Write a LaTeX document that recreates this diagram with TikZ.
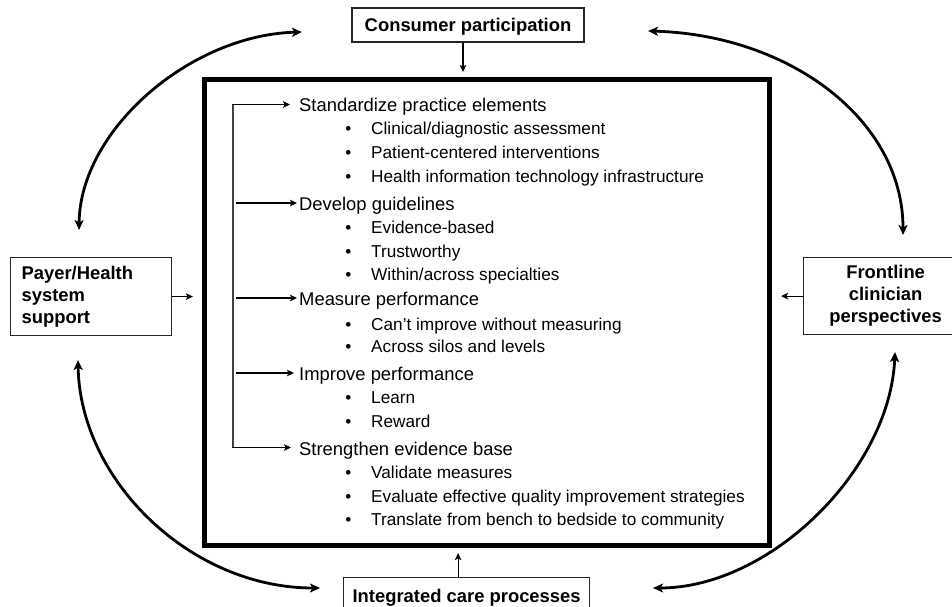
\documentclass[tikz,border=0pt]{standalone}
\usepackage{fontspec}
\setmainfont{Liberation Sans}
\usetikzlibrary{arrows.meta}
\begin{document}
\begin{tikzpicture}[x=1pt,y=-1pt,
  hdr/.style={anchor=base west,inner sep=0pt,font=\fontsize{18.4}{22}\selectfont},
  itm/.style={anchor=base west,inner sep=0pt,font=\fontsize{17.2}{21}\selectfont},
  bul/.style={anchor=base,inner sep=0pt,font=\fontsize{17.2}{21}\selectfont},
  sbox/.style={draw=black!85,line width=1.2pt,font=\bfseries\fontsize{18.4}{22}\selectfont},
  conn/.style={line width=1.2pt,-{Stealth[length=7pt,width=6.5pt,inset=1.5pt]}},
  brk/.style={line width=1.2pt,draw=black!75},
  curv/.style={line width=2.8pt,{Stealth[length=10pt,width=9pt,inset=2.5pt]}-{Stealth[length=10pt,width=9pt,inset=2.5pt]}}
]
\useasboundingbox (0,0) rectangle (952,607);

% main box
\node[draw,line width=5pt,minimum width=565pt,minimum height=465pt,inner sep=0pt] (main) at (486.5,312.5) {};

% outer boxes
\node[sbox,minimum width=232pt,minimum height=34pt,text height=13.2pt,text depth=0pt,inner sep=0pt] (cons) at (468,25) {Consumer participation};
\node[sbox,anchor=north west,text width=139pt,inner xsep=11pt,align=left,minimum height=78pt] (payer) at (10,257) {Payer/Health\\system\\support};
\node[sbox,anchor=north west,text width=142pt,inner xsep=11pt,align=center,minimum height=77pt] (front) at (803,257) {Frontline\\clinician\\perspectives};
\node[sbox,anchor=north west,inner xsep=9pt,inner ysep=12pt,text height=13.2pt,text depth=0pt] (integ) at (343,577) {Integrated care processes};

% straight connectors to the main box
\coordinate (ct) at ([xshift=-5pt]cons.south);
\draw[conn,shorten >=5.5pt] (ct) -- (ct |- main.north);
\draw[conn,shorten >=8.5pt] (payer.east) -- (payer.east -| main.west);
\draw[conn,shorten >=9.5pt] (front.west) -- (front.west -| main.east);
\coordinate (cb) at ([xshift=-8.5pt]integ.north);
\draw[conn,shorten >=5.5pt] (cb) -- (cb |- main.south);

% curved double arrows
\coordinate (tl1) at (302,32);  \coordinate (tl2) at (79,230);
\coordinate (tr1) at (648,31);  \coordinate (tr2) at (903,235);
\coordinate (bl1) at (78,360);  \coordinate (bl2) at (320,588);
\coordinate (br1) at (895,352); \coordinate (br2) at (653,588);
\draw[curv] (tl1) .. controls (190,35) and (80,130) .. (tl2);
\draw[curv] (tr1) .. controls (790,35) and (903,120) .. (tr2);
\draw[curv] (bl1) .. controls (80,480) and (190,588) .. (bl2);
\draw[curv] (br1) .. controls (890,470) and (770,588) .. (br2);

% headers
\node[hdr] (h1) at (299,112) {Standardize practice elements};
\node[hdr] (h2) at (299,210) {Develop guidelines};
\node[hdr] (h3) at (299,305) {Measure performance};
\node[hdr] (h4) at (299,380) {Improve performance};
\node[hdr] (h5) at (299,455) {Strengthen evidence base};

% bullets
\node[bul] (u11) at (348.5,135) {•}; \node[itm] (t11) at (371,135) {Clinical/diagnostic assessment};
\node[bul] (u12) at (348.5,158) {•}; \node[itm] (t12) at (371,158) {Patient-centered interventions};
\node[bul] (u13) at (348.5,182) {•}; \node[itm] (t13) at (371,182) {Health information technology infrastructure};
\node[bul] (u21) at (348.5,233) {•}; \node[itm] (t21) at (371,233) {Evidence-based};
\node[bul] (u22) at (348.5,257) {•}; \node[itm] (t22) at (371,257) {Trustworthy};
\node[bul] (u23) at (348.5,280) {•}; \node[itm] (t23) at (371,280) {Within/across specialties};
\node[bul] (u31) at (348.5,330) {•}; \node[itm] (t31) at (371,330) {Can’t improve without measuring};
\node[bul] (u32) at (348.5,352) {•}; \node[itm] (t32) at (371,352) {Across silos and levels};
\node[bul] (u41) at (348.5,403) {•}; \node[itm] (t41) at (371,403) {Learn};
\node[bul] (u42) at (348.5,427) {•}; \node[itm] (t42) at (371,427) {Reward};
\node[bul] (u51) at (348.5,478) {•}; \node[itm] (t51) at (371,478) {Validate measures};
\node[bul] (u52) at (348.5,502) {•}; \node[itm] (t52) at (371,502) {Evaluate effective quality improvement strategies};
\node[bul] (u53) at (348.5,525) {•}; \node[itm] (t53) at (371,525) {Translate from bench to bedside to community};

% bracket with arrows
\coordinate (e1) at ([xshift=-9pt,yshift=7.5pt]h1.base west);
\coordinate (e2) at ([xshift=-2pt,yshift=7pt]h2.base west);
\coordinate (e3) at ([xshift=-2pt,yshift=7pt]h3.base west);
\coordinate (e4) at ([xshift=-5pt,yshift=7pt]h4.base west);
\coordinate (e5) at ([xshift=-8pt,yshift=7.5pt]h5.base west);
\coordinate (vx) at (233,0);
\coordinate (vs) at (236,0);
\draw[brk] (e1 -| vx) -- (e5 -| vx);
\draw[conn] ([xshift=-0.6pt]e1 -| vx) -- (e1);
\draw[conn] ([xshift=-0.6pt]e5 -| vx) -- (e5);
\draw[conn] (e2 -| vs) -- (e2);
\draw[conn] (e3 -| vs) -- (e3);
\draw[conn] (e4 -| vs) -- (e4);
\end{tikzpicture}
\end{document}
